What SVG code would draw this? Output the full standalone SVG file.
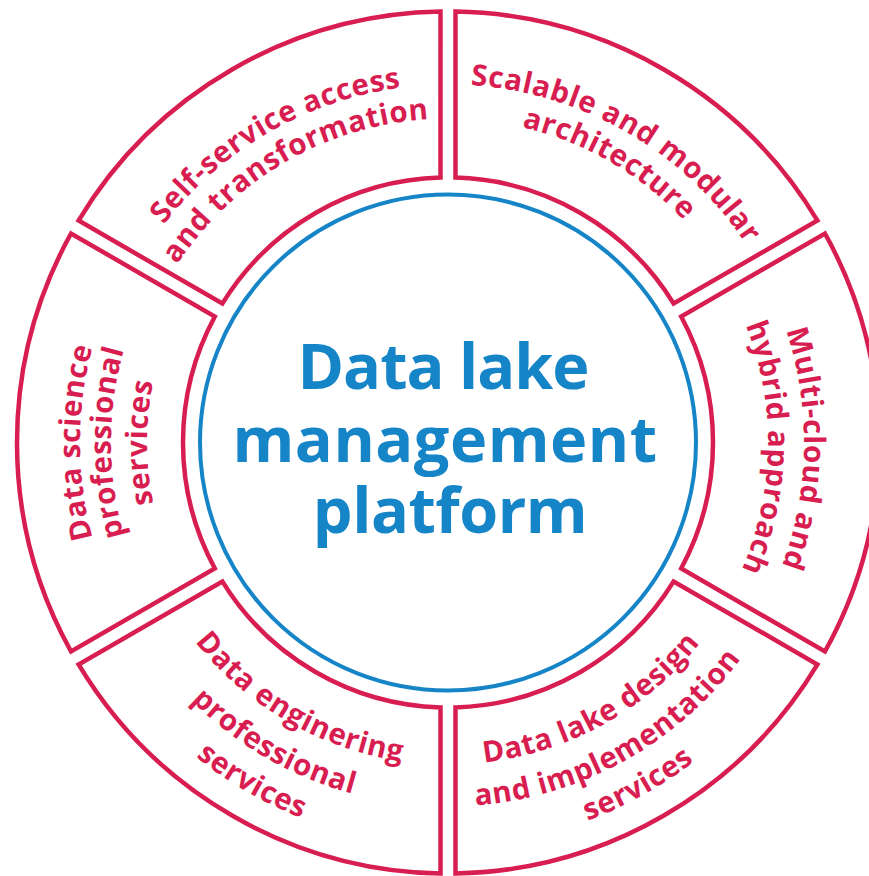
<svg xmlns="http://www.w3.org/2000/svg" xmlns:xlink="http://www.w3.org/1999/xlink" width="869" height="876" viewBox="0 0 869 876">
<style>
.seg{fill:#fff;stroke:#d81e50;stroke-width:4.5;stroke-linejoin:miter}
.lbl{font-family:"Open Sans","Noto Sans",sans-serif;font-weight:700;font-size:29.5px;letter-spacing:0.6px;fill:#d81e50}
.ctr{font-family:"Open Sans","Noto Sans",sans-serif;font-weight:700;font-size:63px;fill:#1685c8;text-anchor:middle}
</style>
<defs>
<path id="seg" d="M 7.5,-430.935 A 431 431 0 0 1 369.45,-221.96 L 225.65,-138.94 A 265 265 0 0 0 7.5,-264.894 Z"/>
<path id="tl1" d="M 102.20,535.16 A 358 358 0 0 1 701.14,189.36"/>
<path id="tl2" d="M 135.04,526.36 A 324 324 0 0 1 677.10,213.40"/>
<path id="tr1" d="M 194.86,189.36 A 358 358 0 0 1 793.80,535.16"/>
<path id="tr2" d="M 218.90,213.40 A 324 324 0 0 1 760.96,526.36"/>
<path id="r1" d="M 540.14,98.63 A 356 356 0 0 1 540.14,786.37"/>
<path id="r2" d="M 530.82,133.40 A 320 320 0 0 1 530.82,751.60"/>
<path id="l1" d="M 352.75,797.96 A 368 368 0 0 1 352.75,87.04"/>
<path id="l2" d="M 360.78,768.02 A 337 337 0 0 1 360.78,116.98"/>
<path id="l3" d="M 370.10,733.24 A 301 301 0 0 1 370.10,151.76"/>
<path id="br1" d="M 216.37,666.18 A 322 322 0 0 0 760.44,364.60"/>
<path id="br2" d="M 186.16,695.36 A 364 364 0 0 0 801.19,354.44"/>
<path id="br3" d="M 158.11,722.45 A 403 403 0 0 0 839.03,345.01"/>
<path id="bl1" d="M 136.97,359.16 A 322 322 0 0 0 675.69,670.19"/>
<path id="bl2" d="M 96.40,348.29 A 364 364 0 0 0 705.39,699.89"/>
<path id="bl3" d="M 58.73,338.20 A 403 403 0 0 0 732.96,727.46"/>
</defs>
<rect width="869" height="876" fill="#fff"/>
<g id="connectors"></g>
<g id="seg-scalable">
<use href="#seg" class="seg" transform="translate(448 442.5) rotate(0)"/>
<text class="lbl"><textPath href="#tr1" startOffset="50%" text-anchor="middle">Scalable and modular</textPath></text>
<text class="lbl"><textPath href="#tr2" startOffset="50%" text-anchor="middle">architecture</textPath></text>
</g>
<g id="seg-multicloud">
<use href="#seg" class="seg" transform="translate(448 442.5) rotate(60)"/>
<g transform="rotate(1 448 442.5)">
<text class="lbl"><textPath href="#r1" startOffset="50%" text-anchor="middle">Multi-cloud and</textPath></text>
<text class="lbl"><textPath href="#r2" startOffset="50%" text-anchor="middle">hybrid approach</textPath></text>
</g>
</g>
<g id="seg-design">
<use href="#seg" class="seg" transform="translate(448 442.5) rotate(120)"/>
<text class="lbl"><textPath href="#br1" startOffset="50%" text-anchor="middle">Data lake design</textPath></text>
<text class="lbl"><textPath href="#br2" startOffset="50%" text-anchor="middle">and implementation</textPath></text>
<text class="lbl"><textPath href="#br3" startOffset="50%" text-anchor="middle">services</textPath></text>
</g>
<g id="seg-engineering">
<use href="#seg" class="seg" transform="translate(448 442.5) rotate(180)"/>
<text class="lbl"><textPath href="#bl1" startOffset="50%" text-anchor="middle">Data enginering</textPath></text>
<text class="lbl"><textPath href="#bl2" startOffset="50%" text-anchor="middle">professional</textPath></text>
<text class="lbl"><textPath href="#bl3" startOffset="50%" text-anchor="middle">services</textPath></text>
</g>
<g id="seg-science">
<use href="#seg" class="seg" transform="translate(448 442.5) rotate(240)"/>
<text class="lbl"><textPath href="#l1" startOffset="50%" text-anchor="middle">Data science</textPath></text>
<text class="lbl"><textPath href="#l2" startOffset="50%" text-anchor="middle">professional</textPath></text>
<text class="lbl"><textPath href="#l3" startOffset="50%" text-anchor="middle">services</textPath></text>
</g>
<g id="seg-selfservice">
<use href="#seg" class="seg" transform="translate(448 442.5) rotate(300)"/>
<text class="lbl"><textPath href="#tl1" startOffset="50%" text-anchor="middle">Self-service access</textPath></text>
<text class="lbl"><textPath href="#tl2" startOffset="50%" text-anchor="middle">and transformation</textPath></text>
</g>
<g id="center">
<circle cx="448" cy="442.5" r="248" fill="#fff" stroke="#1685c8" stroke-width="4"/>
<text class="ctr" x="443" y="389" letter-spacing="-1">Data lake</text>
<text class="ctr" x="445" y="462" letter-spacing="0.5">management</text>
<text class="ctr" x="450" y="533" letter-spacing="-0.5">platform</text>
</g>
</svg>
